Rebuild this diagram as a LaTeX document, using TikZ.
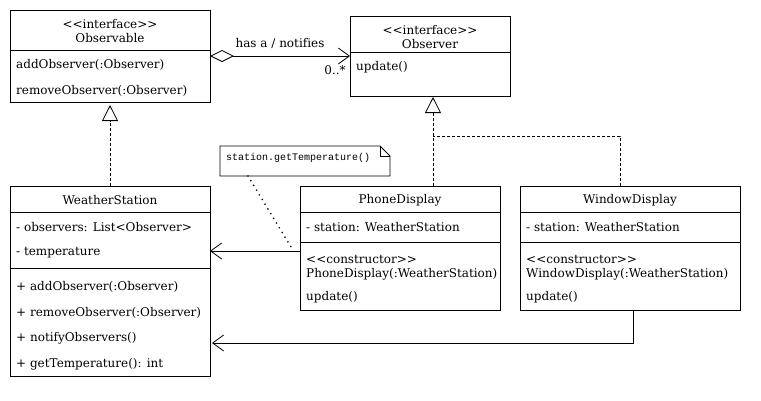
\documentclass[tikz,border=0pt]{standalone}
\usepackage{fontspec}
\setmainfont{DejaVu Serif}[Ligatures=NoCommon]
\newfontfamily\notefont{Liberation Mono}
\usetikzlibrary{arrows.meta,shapes.misc}
\newcommand{\lt}{<\kern0pt<}
\newcommand{\gtgt}{>\kern0pt>}
\begin{document}
\begin{tikzpicture}[x=1pt,y=-1pt,
  ln/.style={line width=0.8pt, draw=black},
  cls/.style={ln, fill=white, rectangle, inner sep=0pt, anchor=north west},
  txt/.style={anchor=west, inner sep=0pt, yshift=-1.5pt, font=\fontsize{12}{14}\selectfont},
  ctxt/.style={anchor=center, inner sep=0pt, align=center, yshift=-1pt, font=\fontsize{12}{14}\selectfont},
  openarrow/.style={-{Straight Barb[length=11pt,width=16pt,line width=0.8pt]}},
  real/.style={ln, dashed, dash pattern=on 3pt off 2pt, -{Triangle[open,length=16pt,width=16pt,line width=0.8pt]}},
]
\useasboundingbox (0,0) rectangle (761,400);

% Observable
\node[cls, minimum width=200pt, minimum height=92pt] (obs) at (10,10) {};
\draw[ln] (10,50) -- (210,50);
\node[ctxt] (obsT) at (110,30) {\lt interface\gtgt\\Observable};
\node[txt] (obs1) at (16,63) {addObserver(:Observer)};
\node[txt] (obs2) at (16,89) {removeObserver(:Observer)};

% Observer
\node[cls, minimum width=160pt, minimum height=80pt] (obr) at (350,16) {};
\draw[ln] (350,52) -- (510,52);
\node[ctxt] (obrT) at (430,36) {\lt interface\gtgt\\Observer};
\node[txt] (obr1) at (356,66) {update()};

% WeatherStation
\node[cls, minimum width=200pt, minimum height=190pt] (ws) at (10,186) {};
\draw[ln] (10,212) -- (210,212);
\draw[ln] (10,268) -- (210,268);
\node[ctxt] (wsT) at (110,199) {WeatherStation};
\node[txt] (ws1) at (16,226) {- observers: List<Observer>};
\node[txt] (ws2) at (16,251) {- temperature};
\node[txt] (ws3) at (16,285) {+ addObserver(:Observer)};
\node[txt] (ws4) at (16,311) {+ removeObserver(:Observer)};
\node[txt] (ws5) at (16,337) {+ notifyObservers()};
\node[txt] (ws6) at (16,363) {+ getTemperature(): int};

% PhoneDisplay
\node[cls, minimum width=200pt, minimum height=124pt] (pd) at (300,186) {};
\draw[ln] (300,212) -- (500,212);
\draw[ln] (300,242) -- (500,242);
\node[ctxt] (pdT) at (400,199) {PhoneDisplay};
\node[txt] (pd1) at (306,226) {- station: WeatherStation};
\node[txt, align=left] (pd2) at (306,266) {\lt constructor\gtgt\\PhoneDisplay(:WeatherStation)};
\node[txt] (pd3) at (306,296) {update()};

% WindowDisplay
\node[cls, minimum width=220pt, minimum height=124pt] (wd) at (520,186) {};
\draw[ln] (520,212) -- (740,212);
\draw[ln] (520,242) -- (740,242);
\node[ctxt] (wdT) at (630,199) {WindowDisplay};
\node[txt] (wd1) at (526,226) {- station: WeatherStation};
\node[txt, align=left] (wd2) at (526,266) {\lt constructor\gtgt\\WindowDisplay(:WeatherStation)};
\node[txt] (wd3) at (526,296) {update()};

% Note
\coordinate (n1) at (220,146);
\coordinate (n2) at (380,146);
\coordinate (n3) at (390,156);
\coordinate (n4) at (390,176);
\coordinate (n5) at (220,176);
\draw[ln, fill=white] (n1) -- (n2) -- (n3) -- (n4) -- (n5) -- cycle;
\draw[ln] (n2) -- (380,156) -- (n3);
\node[anchor=west, inner sep=0pt, font=\notefont\fontsize{10}{11}\selectfont] (note) at (226,158) {station.getTemperature()};
\coordinate (nb) at (248,176);
\coordinate (ne) at (291,247);
\draw[line width=1.8pt, dash pattern=on 0pt off 5.5pt, line cap=round] (nb) -- (ne);

% Aggregation
\coordinate (agS) at (210,56);
\coordinate (agE) at (350,56);
\draw[ln, {Diamond[open,length=24pt,width=12pt,line width=0.8pt]}-{Straight Barb[length=11pt,width=16pt,line width=0.8pt]}] (agS) -- (agE);
\node[ctxt] (agL) at (280,42) {has a / notifies};
\node[ctxt] (agM) at (335,69) {0..*};

% Realizations
\draw[real] (110,186) -- (110,105);
\draw[real] (433,186) -- (433,97);
\draw[ln, dashed, dash pattern=on 3pt off 2pt] (620,186) -- (620,136) -- (433,136);

% Associations
\draw[ln, openarrow] (300,251) -- (210,251);
\draw[ln, openarrow] (633,310) -- (633,343) -- (212,343);
\end{tikzpicture}
\end{document}
